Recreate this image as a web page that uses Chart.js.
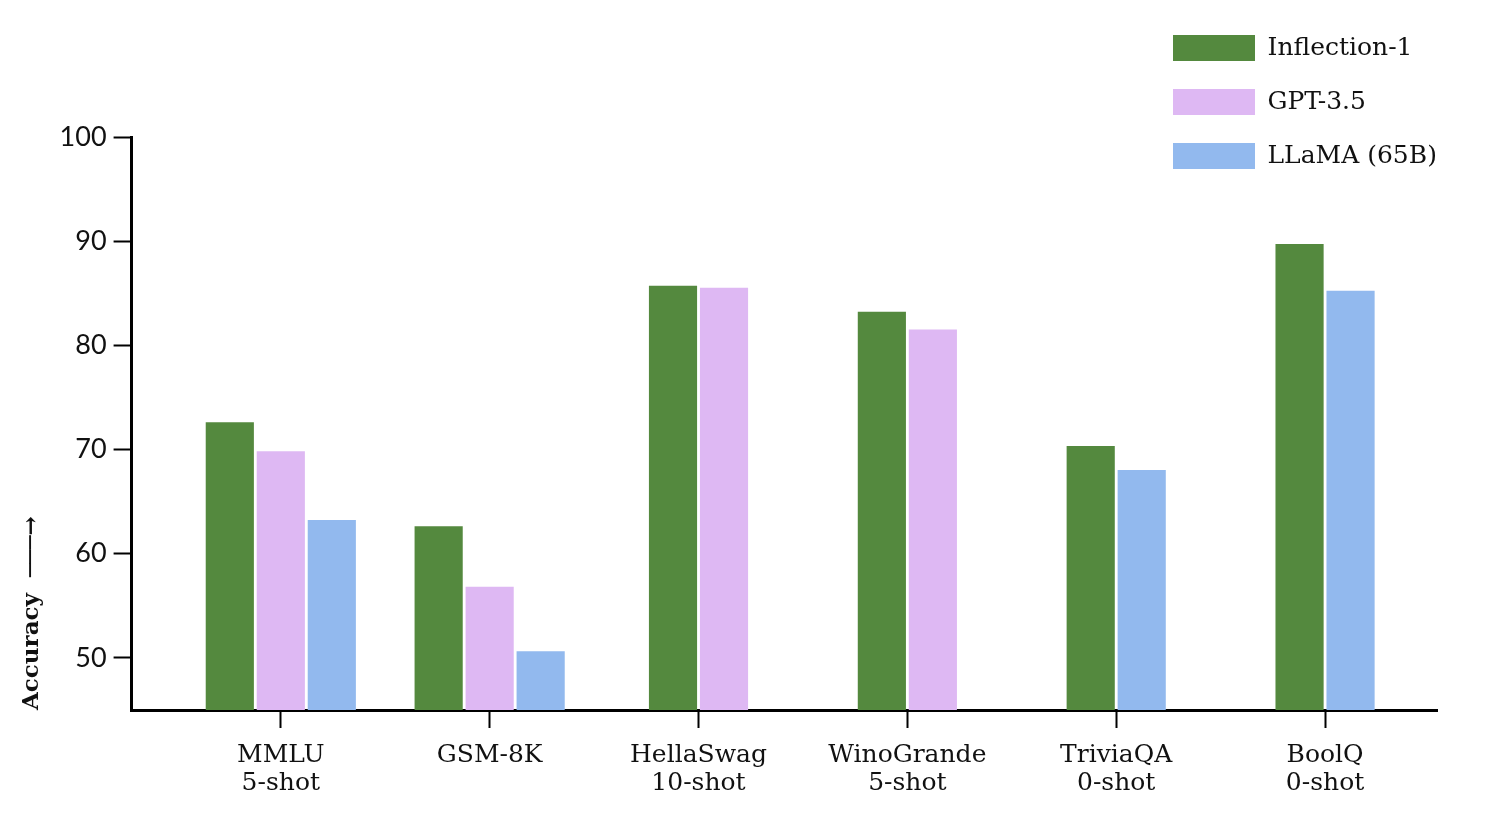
<!DOCTYPE html>
<html><head><meta charset="utf-8">
<script src="https://cdn.jsdelivr.net/npm/chart.js@4/dist/chart.umd.min.js"></script>
<style>html,body{margin:0;padding:0;background:#fff}#wrap{width:1490px;height:826px;position:relative}</style>
</head><body><div id="wrap"><canvas id="c"></canvas></div>
<script>
const categories = [["MMLU","5-shot"], "GSM-8K", ["HellaSwag","10-shot"], ["WinoGrande","5-shot"], ["TriviaQA","0-shot"], ["BoolQ","0-shot"]];
const seriesNames = ["Inflection-1", "GPT-3.5", "LLaMA (65B)"];
const inflection = [72.6, 62.6, 85.7, 83.2, 70.3, 89.7];
const gpt35 = [69.8, 56.8, 85.5, 81.5, null, null];
const llama = [63.2, 50.6, null, null, 68.0, 85.2];
const yTickValues = [50, 60, 70, 80, 90, 100];
const colors = ["#54893E", "#DEB8F3", "#92B9EE"];

const toPoints = arr => arr.map((v, i) => ({x: i, y: v}));
const seriesValues = [inflection, gpt35, llama];

const legendMover = {
  id: 'legendMover',
  afterLayout(chart) {
    const lg = chart.legend;
    const pad = chart.options.plugins.legend.labels.padding;
    const w = lg.width;
    lg.left = 1173 - pad;
    lg.right = lg.left + w + 300;
    lg.top = 35 - pad;
    lg.bottom = chart.height;
  }
};

new Chart(document.getElementById('c'), {
  type: 'bar',
  data: {
    datasets: seriesValues.map((vals, k) => ({
      label: seriesNames[k],
      data: toPoints(vals),
      backgroundColor: colors[k],
      borderWidth: 0,
      skipNull: true,
      barThickness: 51,
      maxBarThickness: 47.5
    }))
  },
  options: {
    responsive: true,
    maintainAspectRatio: false,
    animation: false,
    layout: { padding: { top: 137, left: 14, right: 53, bottom: 15 } },
    plugins: {
      tooltip: { enabled: false },
      legend: {
        position: 'chartArea',
        align: 'start',
        labels: {
          boxWidth: 82, boxHeight: 26, padding: 28,
          color: '#111',
          font: { family: 'DejaVu Serif', size: 25 }
        }
      }
    },
    scales: {
      x: {
        type: 'linear',
        min: -0.7145, max: 5.536,
        offset: false,
        grid: { display: true, offset: false, drawOnChartArea: false, drawTicks: true, tickLength: 18, tickWidth: 2, tickColor: '#000' },
        border: { display: true, color: '#000', width: 3 },
        ticks: {
          stepSize: 1, includeBounds: false, autoSkip: false, maxRotation: 0, minRotation: 0,
          padding: 14, color: '#111',
          font: { family: 'DejaVu Serif', size: 25, lineHeight: 1.1 },
          callback: v => (Number.isInteger(v) && categories[v] !== undefined) ? categories[v] : ''
        }
      },
      y: {
        min: 45, max: 100,
        afterBuildTicks: s => { s.ticks = yTickValues.map(v => ({value: v})); },
        grid: { display: true, drawOnChartArea: false, drawTicks: true, tickLength: 18, tickWidth: 2, tickColor: '#000' },
        border: { display: true, color: '#000', width: 3 },
        ticks: { padding: 7, color: '#111', font: { family: 'Lato', size: 27 } },
        title: {
          display: true, text: 'Accuracy  \u2500\u2500\u2500\u2192', align: 'start', color: '#111',
          font: { family: 'DejaVu Serif', size: 23, weight: 'bold' },
          padding: { top: 4, bottom: 7 }
        }
      }
    }
  },
  plugins: [legendMover]
});
</script></body></html>
